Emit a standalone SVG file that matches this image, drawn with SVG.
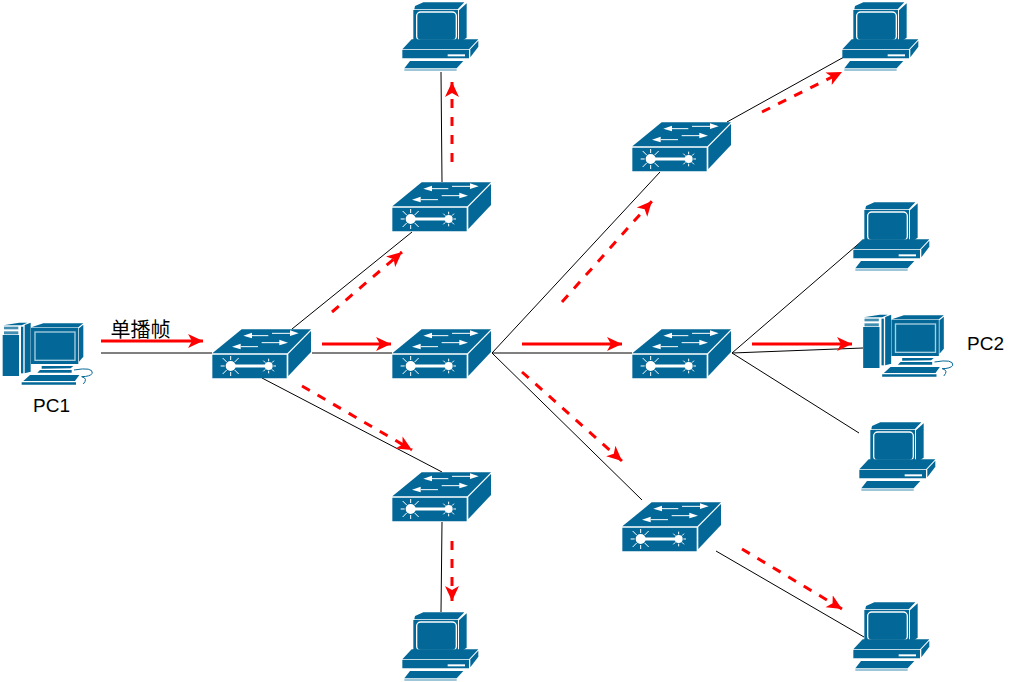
<svg xmlns="http://www.w3.org/2000/svg" width="1012" height="682" viewBox="0 0 1012 682">
<style>
.lk{stroke:#000;stroke-width:1;fill:none}
.rd{stroke:#f00;stroke-width:3;fill:none;marker-end:url(#ah)}
.ds{stroke-dasharray:9 9}
.b{fill:#036897}
.w{fill:#fff}
.wl{stroke:#fff;fill:none}
.t{font-family:"Liberation Sans",Arial,sans-serif;font-size:19px;fill:#000}
</style>
<defs>
<marker id="ah" markerUnits="userSpaceOnUse" markerWidth="18" markerHeight="16" refX="15" refY="8" orient="auto">
<path d="M0 1L15 8L0 15L4 8Z" fill="#f00"/>
</marker>
<g id="sw">
<path class="b" d="M37 100L125 28L333 28L262 100Z"/>
<path class="b" d="M37 104H260V175H37Z"/>
<path class="b" d="M265 102L333 33V96L265 168Z"/>
<g class="wl" stroke-width="3"><path d="M152 47H205"/><path d="M216 40H280"/><path d="M122 80H174"/><path d="M185 68H250"/><path d="M92 138H205" stroke-width="9"/></g>
<path class="w" d="M130 47L156 38V55Z"/><path class="w" d="M296 40L270 31V48Z"/><path class="w" d="M96 80L122 71V88Z"/><path class="w" d="M264 68L238 59V76Z"/>
<circle class="w" cx="92" cy="138" r="15"/><circle class="w" cx="206" cy="138" r="12"/>
<g class="wl" stroke-width="3"><path d="M92 108V120M92 156V168M62 138H74M68 114L80 126M116 114L104 126M68 162L80 150M116 162L104 150"/><path d="M206 116V124M206 152V160M184 138H192M220 138H228M190 122L196 128M222 122L216 128M190 154L196 148M222 154L216 148"/></g>
</g>
<g id="pc">
<path class="b" d="M60 18L85 7H208L188 28H58Z"/>
<path class="b" d="M192 31L215 10V113L192 128Z"/>
<path class="b" d="M55 30H189V127H55Z"/>
<rect x="65" y="36" width="119" height="85" rx="12" fill="#036897" stroke="#fff" stroke-width="4"/>
<path class="b" d="M50 118H250L222 148H22Z"/>
<path class="b" d="M22 150H222V175H22Z"/>
<path class="b" d="M226 148L250 122V140L226 172Z"/>
<path class="w" d="M158 163H210V169H158Z"/>
<path class="b" d="M45 183H205L185 205H28Z"/>
<path d="M28 210H185" stroke="#7fb2cb" stroke-width="4" fill="none"/>
</g>
<g id="tw">
<path class="b" d="M8 75H57V198H8Z"/>
<path class="b" d="M10 46L58 38H82L65 46Z"/>
<path class="b" d="M12 50H55V58H12Z" fill-opacity=".75"/>
<path class="b" d="M12 64H55V73H12Z" fill-opacity=".75"/>
<path class="b" d="M63 50H70V190H63Z"/>
<path class="b" d="M74 45L92 38V185L74 190Z"/>
<path class="b" d="M94 52L130 40H250L235 52Z"/>
<path class="b" d="M237 55L250 44V140L237 155Z"/>
<path class="b" d="M93 53H235V162H93Z"/>
<rect x="105" y="66" width="120" height="85" fill="#036897" stroke="#a9cfe0" stroke-width="4"/>
<path class="b" d="M125 168H220L212 175L125 176Z"/>
<path class="b" d="M120 180H215V188H112Z"/>
<path class="b" d="M90 195H238L225 213H70Z"/>
<path class="b" d="M65 217H228V224H65Z"/>
<path d="M222 180Q280 170 277 190Q270 200 245 200Q265 205 250 222" stroke="#036897" stroke-width="3" fill="none"/>
</g>
</defs>
<g id="connectors">
<path class="lk" d="M101 353H212"/>
<path class="lk" d="M312 353H392"/>
<path class="lk" d="M292 329L412 232"/>
<path class="lk" d="M262 378L442 472"/>
<path class="lk" d="M442 182L441 72"/>
<path class="lk" d="M442 522L441 612"/>
<path class="lk" d="M492 353H632"/>
<path class="lk" d="M492 353L660 172"/>
<path class="lk" d="M492 353L642 500"/>
<path class="lk" d="M727 122L844 57"/>
<path class="lk" d="M716 551L864 637"/>
<path class="lk" d="M732 353L863 240"/>
<path class="lk" d="M732 353L863 348"/>
<path class="lk" d="M732 353L859 433"/>
<path class="rd" d="M101 341H203"/>
<path class="rd" d="M322 344H391"/>
<path class="rd" d="M522 344H622"/>
<path class="rd" d="M752 344H852"/>
<path class="rd ds" d="M332 312L402 252"/>
<path class="rd ds" d="M302 386L412 450"/>
<path class="rd ds" d="M452 162V82"/>
<path class="rd ds" d="M452 541V601"/>
<path class="rd ds" d="M562 302L652 201"/>
<path class="rd ds" d="M522 372L622 461"/>
<path class="rd ds" d="M762 112L842 72"/>
<path class="rd ds" d="M742 549L842 609"/>
</g>
<g id="sw1"><use href="#sw" transform="translate(200 320) scale(.3333)"/></g>
<g id="sw2"><use href="#sw" transform="translate(380 320) scale(.3333)"/></g>
<g id="sw3"><use href="#sw" transform="translate(380 173) scale(.3333)"/></g>
<g id="sw4"><use href="#sw" transform="translate(380 463) scale(.3333)"/></g>
<g id="sw5"><use href="#sw" transform="translate(620 113) scale(.3333)"/></g>
<g id="sw6"><use href="#sw" transform="translate(620 320) scale(.3333)"/></g>
<g id="sw7"><use href="#sw" transform="translate(610 493) scale(.3333)"/></g>
<g id="pc-a"><use href="#pc" transform="translate(395 0) scale(.3333)"/></g>
<g id="pc-b"><use href="#pc" transform="translate(835 0) scale(.3333)"/></g>
<g id="pc-c"><use href="#pc" transform="translate(846 200) scale(.3333)"/></g>
<g id="pc-d"><use href="#pc" transform="translate(852 420) scale(.3333)"/></g>
<g id="pc-e"><use href="#pc" transform="translate(395 610) scale(.3333)"/></g>
<g id="pc-f"><use href="#pc" transform="translate(846 600) scale(.3333)"/></g>
<g id="pc1"><use href="#tw" transform="translate(0 310) scale(.3333)"/><text class="t" x="33" y="412">PC1</text></g>
<g id="pc2"><use href="#tw" transform="translate(860.5 302) scale(.3333)"/><text class="t" x="967" y="350">PC2</text></g>
<text id="lbl" x="110.5" y="337" style="font-family:'Liberation Sans','Noto Sans CJK SC',sans-serif;font-size:20px">单播帧</text>
</svg>
